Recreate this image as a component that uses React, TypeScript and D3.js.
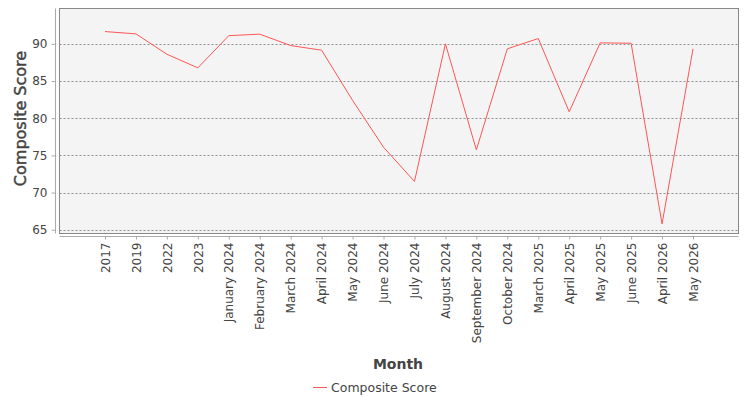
import React, { useEffect, useRef } from 'react';
import * as d3 from 'd3';

const months = [
  '2017', '2019', '2022', '2023', 'January 2024', 'February 2024', 'March 2024',
  'April 2024', 'May 2024', 'June 2024', 'July 2024', 'August 2024', 'September 2024',
  'October 2024', 'March 2025', 'April 2025', 'May 2025', 'June 2025', 'April 2026', 'May 2026',
];
const scores = [
  91.65, 91.34, 88.6, 86.77, 91.1, 91.3, 89.77, 89.14, 82.4, 76.1, 71.5, 90.0, 75.75,
  89.33, 90.71, 80.86, 90.13, 90.08, 65.8, 89.33,
];
const yTicks = [65, 70, 75, 80, 85, 90];
const seriesName = 'Composite Score';

const FONT = '"DejaVu Sans", sans-serif';

const App: React.FC = () => {
  const svgRef = useRef<SVGSVGElement>(null);

  useEffect(() => {
    if (!svgRef.current) return;
    const svg = d3.select(svgRef.current);
    svg.selectAll('*').remove();

    const width = 750;
    const left = 59.5, right = 738.5, top = 8.5, bottom = 233.5;

    const xScale = d3.scalePoint<string>()
      .domain(months)
      .range([left, right])
      .padding(1.47);

    const yScale = d3.scaleLinear()
      .domain([64.5, 94.75])
      .range([bottom, top]);

    svg.append('rect')
      .attr('width', 750).attr('height', 400).attr('fill', '#fff');

    // plot background
    svg.append('rect')
      .attr('x', left).attr('y', top)
      .attr('width', right - left).attr('height', bottom - top)
      .attr('fill', '#f4f4f4');

    // grid
    svg.append('g')
      .selectAll('line')
      .data(yTicks)
      .join('line')
      .attr('x1', left).attr('x2', right)
      .attr('y1', d => Math.round(yScale(d)) + 0.5)
      .attr('y2', d => Math.round(yScale(d)) + 0.5)
      .attr('stroke', '#777')
      .attr('stroke-width', 0.8)
      .attr('stroke-dasharray', '2,2');

    // plot border
    svg.append('rect')
      .attr('x', left).attr('y', top)
      .attr('width', right - left).attr('height', bottom - top)
      .attr('fill', 'none')
      .attr('stroke', '#888');

    // y axis
    const yAxisX = 55.5;
    const yAxis = svg.append('g').attr('transform', `translate(${yAxisX},0)`)
      .call(d3.axisLeft(yScale).tickValues(yTicks).tickSize(4).tickPadding(4));
    yAxis.select('.domain').attr('stroke', '#aaa').attr('d', `M0,${top}V${bottom}`);
    yAxis.selectAll('line').attr('stroke', '#aaa');
    yAxis.selectAll('text')
      .attr('fill', '#444')
      .attr('font-family', FONT)
      .attr('font-size', '12px');

    // x axis
    const xAxisY = 236.5;
    const xAxis = svg.append('g').attr('transform', `translate(0,${xAxisY})`)
      .call(d3.axisBottom(xScale).tickSize(3).tickSizeOuter(0));
    xAxis.select('.domain').attr('stroke', '#aaa').attr('d', `M${left},0H${right}`);
    xAxis.selectAll('line').attr('stroke', '#aaa');
    xAxis.selectAll('text')
      .attr('fill', '#444')
      .attr('font-family', FONT)
      .attr('font-size', '12px')
      .attr('text-anchor', 'end')
      .attr('transform', 'rotate(-90)')
      .attr('x', -6)
      .attr('y', 0)
      .attr('dy', '0.35em');

    // series line
    const line = d3.line<number>()
      .x((_, i) => xScale(months[i]) as number)
      .y(d => yScale(d));

    svg.append('path')
      .datum(scores)
      .attr('fill', 'none')
      .attr('stroke', '#ff5555')
      .attr('stroke-width', 1)
      .attr('d', line);

    // axis titles
    svg.append('text')
      .attr('transform', `translate(26,118.5) rotate(-90)`)
      .attr('text-anchor', 'middle')
      .attr('font-family', FONT)
      .attr('font-size', '16px')
      .attr('fill', '#444')
      .attr('stroke', '#444')
      .attr('stroke-width', 0.45)
      .text('Composite Score');

    svg.append('text')
      .attr('x', 398)
      .attr('y', 369)
      .attr('text-anchor', 'middle')
      .attr('font-family', FONT)
      .attr('font-size', '14px')
      .attr('font-weight', 'bold')
      .attr('fill', '#444')
      .text('Month');

    // legend
    const legend = svg.append('g').attr('transform', `translate(${width / 2 - 62},387.5)`);
    legend.append('line')
      .attr('x1', 0).attr('x2', 14).attr('y1', 0).attr('y2', 0)
      .attr('stroke', '#ff5555').attr('stroke-width', 1);
    legend.append('text')
      .attr('x', 18).attr('y', 0).attr('dy', '0.35em')
      .attr('font-family', FONT)
      .attr('font-size', '12.5px')
      .attr('fill', '#444')
      .text(seriesName);
  }, []);

  return (
    <svg
      ref={svgRef}
      width={750}
      height={400}
      style={{ position: 'absolute', left: 0, top: 0, display: 'block' }}
    />
  );
};

export default App;
